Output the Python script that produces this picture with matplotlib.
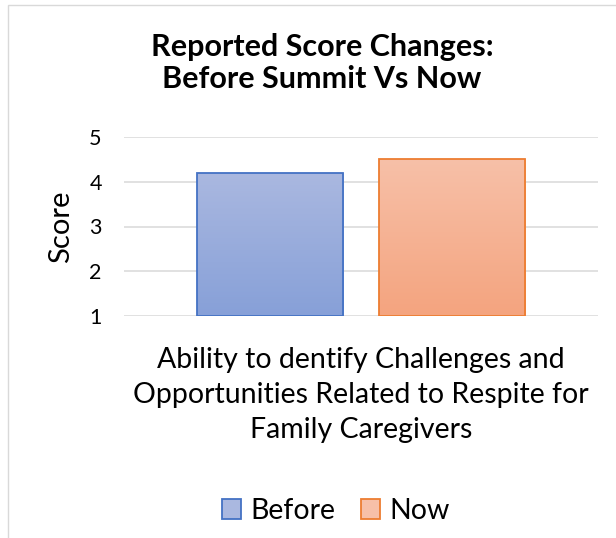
import numpy as np
import matplotlib.pyplot as plt
from matplotlib.patches import Rectangle, Patch

plt.rcParams['font.family'] = ['Lato', 'DejaVu Sans']

# chart data
series = ["Before", "Now"]
scores = [4.2, 4.5]
category = "Ability to dentify Challenges and\nOpportunities Related to Respite for\nFamily Caregivers"
y_ticks = [1, 2, 3, 4, 5]

# gradient fills (top colour, bottom colour) and edge colours
tops = ["#aab8e0", "#f7c0a8"]
bottoms = ["#87a0d8", "#f4a47f"]
edges = ["#4472c4", "#ed7d31"]

W, H = 616, 538
fig = plt.figure(figsize=(W / 100, H / 100), dpi=100)

# chart area border (only top and left edges are visible in the picture)
fig.add_artist(Rectangle((8 / W, -0.1), 1.2, 1 - 5 / H + 0.1, transform=fig.transFigure,
                         facecolor="none", edgecolor="#d9d9d9", linewidth=1.0))

ax = fig.add_axes([124 / W, 1 - 316 / H, 474 / W, 179 / H])

bar_w = 0.31
offsets = [-0.192, 0.192]
for i, (val, off) in enumerate(zip(scores, offsets)):
    rect = ax.bar(off, val - 1, bottom=1, width=bar_w, facecolor="none",
                  edgecolor=edges[i], linewidth=1.3, zorder=3)[0]
    c1 = np.array(plt.matplotlib.colors.to_rgb(tops[i]))
    c2 = np.array(plt.matplotlib.colors.to_rgb(bottoms[i]))
    t = np.linspace(0, 1, 100)[:, None]
    grad = (c1 * (1 - t) + c2 * t)[:, None, :]
    im = ax.imshow(grad, extent=[off - bar_w / 2, off + bar_w / 2, 1, val],
                   aspect="auto", zorder=2, origin="upper")
    im.set_clip_path(rect)

ax.set_xlim(-0.5, 0.5)
ax.set_ylim(1, 5)
ax.set_yticks(y_ticks)
ax.set_yticklabels([str(v) for v in y_ticks], fontsize=15.5)
ax.tick_params(axis="y", length=0, pad=16)
ax.set_xticks([0])
ax.set_xticklabels([category], fontsize=20.5, linespacing=1.45)
ax.tick_params(axis="x", length=0, pad=22)
ax.grid(axis="y", color="#d9d9d9", linewidth=1.1, zorder=0)
ax.set_axisbelow(True)
for s in ax.spines.values():
    s.set_visible(False)

ax.set_ylabel("Score", fontsize=21, labelpad=11)

fig.text(322 / W, 1 - 63 / H, "Reported Score Changes:\nBefore Summit Vs Now",
         ha="center", va="center", fontsize=22, fontweight="bold", linespacing=1.15)

handles = [Patch(facecolor=tops[i], edgecolor=edges[i], linewidth=1.3) for i in range(2)]
fig.legend(handles, series, loc="center", bbox_to_anchor=(336 / W, 1 - 511 / H),
           ncol=2, frameon=False, fontsize=20.5, handlelength=0.65, handleheight=0.65,
           handletextpad=0.35, columnspacing=0.9)

fig.savefig("out.png", dpi=100)
